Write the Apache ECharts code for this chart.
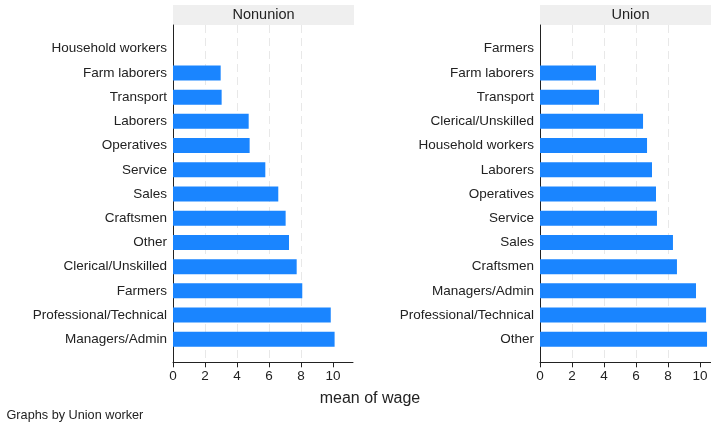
<!DOCTYPE html>
<html><head><meta charset="utf-8">
<script src="https://cdn.jsdelivr.net/npm/echarts@6/dist/echarts.min.js"></script>
<style>html,body{margin:0;padding:0;background:#fff}#c{width:711px;height:423px}</style>
</head><body><div id="c"></div>
<script>
const nonunionCats = ['Household workers','Farm laborers','Transport','Laborers','Operatives','Service','Sales','Craftsmen','Other','Clerical/Unskilled','Farmers','Professional/Technical','Managers/Admin'];
const nonunionVals = [null,2.98,3.04,4.73,4.79,5.77,6.58,7.04,7.25,7.73,8.08,9.86,10.1];
const unionCats = ['Farmers','Farm laborers','Transport','Clerical/Unskilled','Household workers','Laborers','Operatives','Service','Sales','Craftsmen','Managers/Admin','Professional/Technical','Other'];
const unionVals = [null,3.5,3.69,6.44,6.69,7.0,7.25,7.31,8.31,8.56,9.75,10.38,10.44];
const xTicks = [0,2,4,6,8,10];
const panelTitles = ['Nonunion','Union'];
const xTitle = 'mean of wage';
const note = 'Graphs by Union worker';

const FONT = '"Liberation Sans", Arial, sans-serif';
const PX_PER_UNIT = 16;
const BAR = '#1a85ff';
const panels = [
  {left:173, width:180, cats:nonunionCats, vals:nonunionVals},
  {left:540, width:171, cats:unionCats, vals:unionVals}
];
const HEADER_W = 181;
const grid = [], xAxis = [], yAxis = [], series = [], graphic = [];
panels.forEach((p, i) => {
  const xmax = p.width / PX_PER_UNIT;
  grid.push({left:p.left, top:25, width:p.width, height:337.3});
  grid.push({left:p.left, top:36.6, width:p.width, height:314.8});
  const go = i*2, gi = i*2+1;
  xAxis.push({gridIndex:go, type:'value', min:0, max:xmax, interval:2,
    axisLine:{show:true, lineStyle:{color:'#222', width:1}},
    axisTick:{show:true, length:5, lineStyle:{color:'#222'}, customValues:xTicks},
    axisLabel:{color:'#222', fontFamily:FONT, fontSize:13.5, margin:7, customValues:xTicks},
    splitLine:{show:true, showMinLine:false, showMaxLine:false, lineStyle:{color:'#e8e8e8', type:[8,5], width:1}}});
  xAxis.push({gridIndex:gi, type:'value', min:0, max:xmax, show:false, splitLine:{show:false}});
  yAxis.push({gridIndex:go, type:'category', data:p.cats, inverse:true,
    axisLine:{show:true, onZero:false, lineStyle:{color:'#222', width:1}},
    axisTick:{show:false}, axisLabel:{show:false}, splitLine:{show:false}});
  yAxis.push({gridIndex:gi, type:'category', data:p.cats, inverse:true,
    axisLine:{show:false}, axisTick:{show:false},
    axisLabel:{color:'#222', fontFamily:FONT, fontSize:13.5, margin:6}});
  series.push({type:'bar', xAxisIndex:gi, yAxisIndex:gi, data:p.vals, barWidth:15,
    itemStyle:{color:BAR}, silent:true, animation:false});
  graphic.push({type:'rect', shape:{x:p.left, y:5, width:HEADER_W, height:20}, style:{fill:'#efefef'}, z:0});
  graphic.push({type:'text', x:p.left + HEADER_W/2, y:15, style:{text:panelTitles[i], font:'14.5px '+FONT, fill:'#222', textAlign:'center', textVerticalAlign:'middle'}});
});
graphic.push({type:'text', x:370, y:399, style:{text:xTitle, font:'16px '+FONT, fill:'#222', textAlign:'center', textVerticalAlign:'middle'}});
graphic.push({type:'text', x:6.5, y:415.5, style:{text:note, font:'12.7px '+FONT, fill:'#222', textAlign:'left', textVerticalAlign:'middle'}});

const chart = echarts.init(document.getElementById('c'), null, {renderer:'canvas'});
chart.setOption({animation:false, backgroundColor:'#fff', grid, xAxis, yAxis, series, graphic});
</script></body></html>
